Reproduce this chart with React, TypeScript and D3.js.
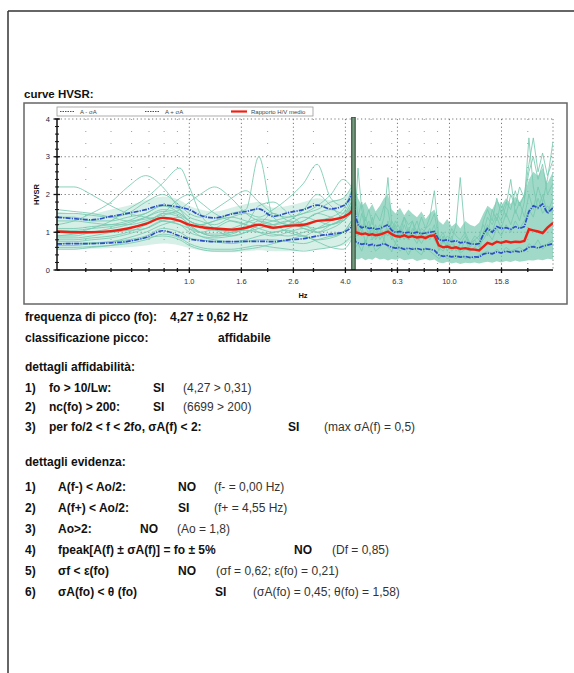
import React from 'react';
import * as d3 from 'd3';

// ---------------- DATA ----------------
const FREQ_LO = [0.31, 0.36, 0.42, 0.5, 0.58, 0.68, 0.79, 0.92, 1.0, 1.1, 1.25, 1.45, 1.65, 1.85, 2.1, 2.4, 2.75, 3.1, 3.5, 3.9, 4.2];
const FO = 4.27;
const FO_BAND = [4.21, 4.34];
const FREQ_HI = [4.35, 4.45, 4.6, 4.75, 4.9, 5.05, 5.2, 5.4, 5.6, 5.8, 6.0, 6.2, 6.45, 6.7, 6.95, 7.2, 7.5, 7.8, 8.1, 8.4, 8.75, 9.1, 9.45, 9.8, 10.2, 10.6, 11.0, 11.5, 12.0, 12.5, 13.0, 13.5, 14.0, 14.6, 15.2, 15.8, 16.5, 17.2, 17.9, 18.6, 19.4, 20.2, 21.0, 21.9, 22.8, 23.8, 25.0];

// individual windows, low frequency part (on FREQ_LO)
const LF_CURVES = [
  [2.2, 2.2, 2.0, 1.7, 1.5, 1.4, 1.3, 1.2, 1.1, 1.0, 1.1, 1.3, 1.2, 1.0, 0.9, 1.0, 1.1, 1.0, 1.2, 1.4, 1.8],
  [1.2, 1.3, 1.5, 1.8, 2.2, 2.5, 2.2, 1.6, 1.3, 1.2, 1.1, 1.0, 1.1, 1.3, 1.2, 1.0, 0.9, 1.1, 1.3, 1.5, 1.9],
  [1.0, 1.0, 1.1, 1.3, 1.6, 1.9, 2.3, 2.7, 2.2, 1.5, 1.1, 0.9, 1.0, 1.2, 1.5, 1.3, 1.1, 1.0, 1.1, 1.3, 1.6],
  [0.9, 0.9, 1.0, 1.1, 1.2, 1.4, 1.6, 1.5, 1.3, 1.2, 1.3, 1.5, 1.6, 3.0, 1.4, 1.2, 1.3, 1.5, 1.4, 1.3, 1.7],
  [1.4, 1.4, 1.3, 1.3, 1.4, 1.5, 1.7, 1.6, 1.4, 1.3, 1.2, 1.4, 1.5, 1.4, 1.6, 1.9, 2.3, 2.8, 1.9, 1.7, 2.1],
  [0.8, 0.8, 0.85, 0.9, 1.0, 1.2, 1.5, 1.4, 1.2, 1.0, 0.9, 0.95, 1.1, 1.2, 1.3, 1.4, 1.5, 1.7, 2.0, 2.4, 2.2],
  [0.6, 0.6, 0.62, 0.65, 0.7, 0.8, 0.95, 0.85, 0.7, 0.6, 0.55, 0.55, 0.6, 0.65, 0.6, 0.55, 0.5, 0.55, 0.6, 0.7, 0.9],
  [0.7, 0.7, 0.72, 0.75, 0.8, 0.9, 1.1, 1.0, 0.85, 0.8, 0.75, 0.7, 0.75, 0.8, 0.8, 0.75, 0.7, 0.8, 0.9, 1.0, 1.2],
  [1.1, 1.1, 1.15, 1.2, 1.3, 1.5, 1.7, 1.5, 1.3, 1.2, 1.3, 1.4, 1.3, 1.2, 1.1, 1.2, 1.4, 1.3, 1.2, 1.4, 1.7],
  [0.9, 0.95, 1.0, 1.0, 1.05, 1.1, 1.3, 1.4, 1.2, 1.0, 0.9, 1.0, 1.2, 1.7, 1.8, 1.5, 1.2, 1.1, 1.2, 1.3, 1.5],
  [1.3, 1.3, 1.25, 1.2, 1.2, 1.3, 1.5, 1.9, 2.0, 1.8, 1.5, 1.3, 1.2, 1.1, 1.0, 1.1, 1.3, 1.5, 1.6, 1.5, 1.8],
  [0.75, 0.75, 0.8, 0.85, 0.95, 1.1, 1.3, 1.2, 1.0, 0.9, 0.85, 0.9, 1.0, 1.1, 1.2, 1.3, 1.2, 1.0, 0.9, 1.0, 1.3],
  [1.5, 1.5, 1.45, 1.4, 1.5, 1.8, 2.0, 1.7, 1.5, 1.4, 1.6, 1.9, 2.1, 1.8, 1.5, 1.4, 1.5, 1.6, 1.8, 1.9, 2.2],
  [0.65, 0.65, 0.7, 0.75, 0.85, 1.0, 1.2, 1.3, 1.1, 0.9, 0.8, 0.75, 0.8, 0.9, 1.0, 1.05, 0.9, 0.8, 0.85, 1.0, 1.3],
  [1.05, 1.05, 1.1, 1.15, 1.25, 1.4, 1.55, 1.45, 1.3, 1.15, 1.05, 1.1, 1.25, 1.35, 1.3, 1.2, 1.15, 1.3, 1.4, 1.6, 2.0],
  [0.85, 0.85, 0.9, 1.0, 1.1, 1.25, 1.4, 1.3, 1.15, 1.0, 0.95, 1.0, 1.05, 1.0, 0.95, 0.9, 1.0, 1.1, 1.2, 1.35, 1.6],
  [1.6, 1.55, 1.5, 1.4, 1.3, 1.35, 1.45, 1.6, 1.8, 2.0, 2.2, 1.9, 1.5, 1.3, 1.2, 1.3, 1.6, 2.0, 1.7, 1.4, 1.7],
  [0.55, 0.55, 0.6, 0.65, 0.75, 0.85, 0.9, 0.8, 0.65, 0.55, 0.5, 0.5, 0.55, 0.6, 0.7, 0.8, 0.9, 0.75, 0.6, 0.55, 0.8],
];
const LF_ENV_LOW = [0.55, 0.55, 0.56, 0.58, 0.6, 0.65, 0.7, 0.65, 0.58, 0.52, 0.48, 0.47, 0.5, 0.52, 0.5, 0.5, 0.52, 0.55, 0.6, 0.65, 0.8];
const LF_ENV_HIGH = [1.55, 1.5, 1.5, 1.6, 1.7, 1.85, 1.95, 1.85, 1.7, 1.6, 1.55, 1.65, 1.75, 1.8, 1.65, 1.7, 1.8, 1.9, 1.85, 1.9, 2.2];

// high frequency part (on FREQ_HI)
const HF_ENV_LOW = [0.3, 0.28, 0.32, 0.26, 0.3, 0.27, 0.33, 0.28, 0.3, 0.25, 0.29, 0.27, 0.31, 0.26, 0.28, 0.3, 0.24, 0.27, 0.29, 0.25, 0.28, 0.2, 0.18, 0.22, 0.17, 0.2, 0.16, 0.19, 0.18, 0.2, 0.17, 0.2, 0.22, 0.19, 0.23, 0.2, 0.24, 0.21, 0.25, 0.22, 0.24, 0.26, 0.25, 0.28, 0.26, 0.3, 0.28];
const HF_ENV_HIGH = [2.2, 1.9, 1.7, 1.8, 1.6, 1.75, 1.55, 1.7, 1.9, 2.0, 1.6, 1.5, 1.65, 1.45, 1.6, 1.5, 1.4, 1.55, 1.35, 1.5, 1.6, 1.3, 1.2, 1.35, 1.15, 1.25, 1.1, 1.3, 1.2, 1.15, 1.25, 1.5, 1.7, 1.6, 1.85, 1.7, 1.9, 1.75, 1.95, 1.8, 2.0, 2.4, 2.6, 2.5, 2.7, 2.3, 2.6];
const HF_CURVES = [
  [1.5, 2.7, 1.6, 1.2, 0.9, 1.1, 0.8, 1.0, 1.4, 2.45, 1.2, 0.9, 1.0, 0.8, 1.1, 0.9, 0.7, 1.0, 0.8, 0.9, 1.2, 0.6, 0.5, 0.7, 0.5, 0.6, 0.45, 0.55, 0.5, 0.6, 0.5, 0.9, 1.2, 1.0, 1.4, 1.1, 1.5, 1.2, 1.6, 1.3, 1.8, 3.5, 2.2, 1.6, 2.0, 1.5, 1.9],
  [0.8, 1.3, 1.0, 1.4, 1.1, 0.9, 1.2, 0.8, 1.0, 0.9, 1.3, 1.1, 0.8, 1.2, 0.9, 1.0, 1.3, 0.9, 1.1, 1.4, 2.1, 0.9, 0.7, 0.9, 0.8, 1.2, 2.45, 0.9, 0.7, 0.8, 0.6, 1.0, 1.4, 1.2, 1.5, 1.3, 1.7, 2.4, 1.5, 1.8, 1.4, 2.0, 1.6, 2.2, 1.8, 2.4, 3.4],
  [1.2, 1.0, 1.5, 1.1, 1.3, 0.8, 1.0, 1.2, 0.9, 1.1, 0.8, 1.2, 0.9, 1.4, 1.0, 1.3, 0.8, 1.1, 1.0, 0.8, 1.0, 0.5, 0.8, 0.6, 0.9, 0.5, 0.7, 0.9, 0.6, 0.8, 0.9, 1.2, 0.9, 1.6, 1.3, 1.8, 1.4, 2.0, 1.7, 2.2, 1.9, 2.6, 3.0, 2.4, 2.8, 2.0, 2.3],
  [0.6, 0.7, 0.5, 0.8, 0.6, 0.7, 0.5, 0.6, 0.8, 0.6, 0.5, 0.7, 0.5, 0.6, 0.4, 0.6, 0.5, 0.4, 0.6, 0.5, 0.4, 0.3, 0.4, 0.3, 0.35, 0.3, 0.4, 0.3, 0.35, 0.3, 0.4, 0.45, 0.5, 0.4, 0.55, 0.45, 0.6, 0.5, 0.55, 0.6, 0.5, 0.7, 0.6, 0.8, 0.55, 0.7, 0.8],
  [2.0, 1.4, 1.8, 1.3, 1.6, 1.2, 1.5, 1.3, 1.7, 1.6, 1.0, 1.3, 1.1, 1.4, 1.2, 1.3, 1.0, 1.4, 1.1, 1.2, 1.5, 0.8, 1.0, 0.7, 1.1, 0.9, 0.8, 1.0, 0.7, 0.9, 0.8, 1.3, 1.6, 1.3, 1.9, 1.5, 1.8, 1.6, 2.1, 1.7, 2.0, 2.8, 3.5, 2.6, 3.1, 2.5, 2.9],
  [1.0, 0.9, 1.2, 0.7, 1.0, 1.4, 0.9, 1.1, 0.8, 1.3, 0.9, 0.7, 1.1, 0.9, 0.8, 1.1, 0.9, 0.7, 0.9, 1.1, 0.8, 0.6, 0.9, 0.5, 0.7, 0.6, 0.5, 0.8, 0.5, 0.6, 0.7, 0.8, 1.0, 0.8, 1.1, 0.9, 1.2, 1.0, 1.3, 1.1, 1.3, 1.6, 1.4, 1.9, 1.5, 1.7, 1.5],
];

// mean H/V and +- sigma: low part (FREQ_LO + FO), high part (FREQ_HI)
const MEAN_LO = [1.02, 1.0, 1.0, 1.03, 1.1, 1.22, 1.38, 1.3, 1.2, 1.14, 1.1, 1.07, 1.12, 1.2, 1.12, 1.17, 1.2, 1.3, 1.33, 1.4, 1.55, 1.85];
const UPPER_LO = [1.4, 1.36, 1.33, 1.42, 1.5, 1.6, 1.72, 1.66, 1.6, 1.45, 1.38, 1.48, 1.55, 1.62, 1.42, 1.52, 1.6, 1.72, 1.62, 1.7, 2.0, 2.5];
const LOWER_LO = [0.69, 0.7, 0.7, 0.72, 0.76, 0.86, 1.04, 0.9, 0.82, 0.78, 0.75, 0.75, 0.76, 0.76, 0.75, 0.8, 0.83, 0.9, 0.95, 1.0, 1.15, 1.3];
const MEAN_HI = [1.0, 0.98, 0.95, 0.97, 0.93, 0.95, 0.92, 0.94, 0.98, 1.02, 0.95, 0.9, 0.88, 0.92, 0.87, 0.9, 0.86, 0.88, 0.85, 0.9, 0.92, 0.65, 0.6, 0.62, 0.58, 0.6, 0.56, 0.58, 0.55, 0.54, 0.52, 0.62, 0.72, 0.68, 0.75, 0.72, 0.76, 0.73, 0.75, 0.74, 0.77, 1.08, 1.05, 1.02, 0.98, 1.12, 1.25];
const UPPER_HI = [1.45, 1.2, 1.12, 1.15, 1.1, 1.12, 1.08, 1.1, 1.15, 1.2, 1.05, 1.0, 1.02, 0.98, 1.0, 0.97, 1.0, 0.96, 0.98, 1.0, 1.02, 0.8, 0.78, 0.8, 0.75, 0.78, 0.72, 0.74, 0.7, 0.68, 0.7, 0.95, 1.1, 1.0, 1.15, 1.1, 1.12, 1.08, 1.15, 1.1, 1.15, 1.55, 1.7, 1.65, 1.75, 1.5, 1.65];
const LOWER_HI = [0.75, 0.72, 0.68, 0.7, 0.66, 0.68, 0.64, 0.66, 0.7, 0.65, 0.6, 0.58, 0.6, 0.55, 0.58, 0.55, 0.57, 0.54, 0.56, 0.55, 0.52, 0.4, 0.36, 0.38, 0.35, 0.37, 0.34, 0.36, 0.33, 0.35, 0.34, 0.42, 0.45, 0.43, 0.48, 0.45, 0.5, 0.47, 0.5, 0.48, 0.52, 0.6, 0.62, 0.58, 0.63, 0.66, 0.7];

const X_DOMAIN = [0.31, 25];
const Y_DOMAIN = [0, 4];
const X_TICKS = [1, 1.585, 2.512, 3.981, 6.31, 10, 15.85];
const X_TICK_LABELS = ['1.0', '1.6', '2.6', '4.0', '6.3', '10.0', '15.8'];
const X_MINOR = [0.4, 0.5, 0.6, 0.7, 0.8, 0.9, 2, 3, 5, 6, 7, 8, 9, 20];
const Y_TICKS = [0, 1, 2, 3, 4];

const LEGEND_LABELS = ['A - σA', 'A + σA', 'Rapporto H/V medio'];

const TITLE = 'curve HVSR:';
const PEAK_LINES = [
  ['frequenza di picco (fo):', '4,27 ± 0,62 Hz'],
  ['classificazione picco:', 'affidabile'],
];
const AFFID_TITLE = 'dettagli affidabilità:';
const AFFID_ROWS = [
  ['1)', 'fo > 10/Lw:', 'SI', '(4,27 > 0,31)'],
  ['2)', 'nc(fo) > 200:', 'SI', '(6699 > 200)'],
  ['3)', 'per fo/2 < f < 2fo, σA(f) < 2:', 'SI', '(max σA(f) = 0,5)'],
];
const EVID_TITLE = 'dettagli evidenza:';
const EVID_ROWS = [
  ['1)', 'A(f-) < Ao/2:', 'NO', '(f- = 0,00 Hz)'],
  ['2)', 'A(f+) < Ao/2:', 'SI', '(f+ = 4,55 Hz)'],
  ['3)', 'Ao>2:', 'NO', '(Ao = 1,8)'],
  ['4)', 'fpeak[A(f) ± σA(f)] = fo ± 5%', 'NO', '(Df = 0,85)'],
  ['5)', 'σf < ε(fo)', 'NO', '(σf = 0,62; ε(fo) = 0,21)'],
  ['6)', 'σA(fo) < θ (fo)', 'SI', '(σA(fo) = 0,45; θ(fo) = 1,58)'],
];

// ---------------- LAYOUT ----------------
const W = 574, H = 673;
const PL = 57, PR = 553, PT = 119, PB = 270;
const FONT = 'Liberation Sans, Arial, Helvetica, sans-serif';
const TXT = 12;
const AFFID_POS = [
  { y: 392, res: 153, note: 183 },
  { y: 411, res: 153, note: 183 },
  { y: 431, res: 288, note: 324 },
];
const EVID_POS = [
  { y: 491, res: 178, note: 214 },
  { y: 512, res: 178, note: 214 },
  { y: 533, res: 140, note: 177 },
  { y: 554, res: 294, note: 332 },
  { y: 575, res: 178, note: 216 },
  { y: 596, res: 215, note: 253 },
];

const TEAL = '#78c9b0';
const BLUE = '#2d4fc4';
const RED = '#ee2016';

export default function App() {
  const x = d3.scaleLog().domain(X_DOMAIN).range([PL, PR]);
  const y = d3.scaleLinear().domain(Y_DOMAIN).range([PB, PT]);

  const smooth = d3.line<[number, number]>().x((d) => x(d[0])).y((d) => y(d[1])).curve(d3.curveMonotoneX);
  const lin = d3.line<[number, number]>().x((d) => x(d[0])).y((d) => y(d[1]));
  const areaSmooth = d3.area<[number, number, number]>().x((d) => x(d[0])).y0((d) => y(d[1])).y1((d) => y(d[2])).curve(d3.curveMonotoneX);
  const areaLin = d3.area<[number, number, number]>().x((d) => x(d[0])).y0((d) => y(d[1])).y1((d) => y(d[2]));

  const FREQ_LO_FO = [...FREQ_LO, FO];
  const zipLo = (vals: number[]) => FREQ_LO_FO.map((f, i) => [f, vals[i]] as [number, number]);
  const zipHi = (vals: number[], first: number) => [[FO, first] as [number, number], ...FREQ_HI.map((f, i) => [f, vals[i]] as [number, number])];

  const yMinor = d3.range(0, 4.001, 0.2);

  return (
    <svg width={W} height={H} style={{ position: 'absolute', left: 0, top: 0, background: '#fff' }} fontFamily={FONT}>
      <defs>
        <clipPath id="plotclip">
          <rect x={PL} y={PT - 2} width={PR - PL} height={PB - PT + 2} />
        </clipPath>
      </defs>
      {/* page frame */}
      <line x1={8} y1={11} x2={W} y2={11} stroke="#333" strokeWidth={1.5} />
      <line x1={8} y1={11} x2={8} y2={H} stroke="#333" strokeWidth={1.5} />

      <text x={24} y={98} fontSize={11.5} fontWeight="bold" fill="#111">{TITLE}</text>

      {/* chart box */}
      <rect x={24} y={103} width={543} height={201} fill="#fff" stroke="#666" strokeWidth={1.5} />

      {/* grid */}
      {X_MINOR.map((f) => (
        <line key={'gm' + f} x1={x(f)} x2={x(f)} y1={PT} y2={PB} stroke="#9a9a9a" strokeWidth={1} strokeDasharray="1 11" />
      ))}
      {X_TICKS.map((f) => (
        <line key={'gx' + f} x1={x(f)} x2={x(f)} y1={PT} y2={PB} stroke="#777" strokeWidth={1} strokeDasharray="1.2 2.6" />
      ))}
      <line x1={PR} x2={PR} y1={PT} y2={PB} stroke="#777" strokeWidth={1} strokeDasharray="1.2 2.6" />
      {Y_TICKS.filter((v) => v > 0).map((v) => (
        <line key={'gy' + v} x1={PL} x2={PR} y1={y(v)} y2={y(v)} stroke="#777" strokeWidth={1} strokeDasharray="1.2 2.6" />
      ))}

      <g clipPath="url(#plotclip)">
        {/* individual windows */}
        <path d={areaSmooth(FREQ_LO.map((f, i) => [f, LF_ENV_LOW[i], LF_ENV_HIGH[i]] as [number, number, number])) || ''} fill={TEAL} opacity={0.3} />
        {LF_CURVES.map((c, k) => (
          <path key={'lf' + k} d={smooth(FREQ_LO.map((f, i) => [f, c[i]] as [number, number])) || ''} fill="none" stroke={TEAL} strokeWidth={1} opacity={0.85} />
        ))}
        <path d={areaLin(FREQ_HI.map((f, i) => [f, HF_ENV_LOW[i], HF_ENV_HIGH[i]] as [number, number, number])) || ''} fill={TEAL} opacity={0.7} />
        {HF_CURVES.map((c, k) => (
          <path key={'hf' + k} d={lin(FREQ_HI.map((f, i) => [f, c[i]] as [number, number])) || ''} fill="none" stroke={TEAL} strokeWidth={1} opacity={0.85} />
        ))}

        {/* +- sigma */}
        {[[UPPER_LO, UPPER_HI], [LOWER_LO, LOWER_HI]].map(([lo, hi], k) => (
          <g key={'sg' + k}>
            <path d={smooth(zipLo(lo)) || ''} fill="none" stroke={BLUE} strokeWidth={1.7} strokeDasharray="5 1.2 1.2 1.2" />
            <path d={lin(zipHi(hi, lo[lo.length - 1])) || ''} fill="none" stroke={BLUE} strokeWidth={1.7} strokeDasharray="5 1.2 1.2 1.2" />
          </g>
        ))}
        {/* mean */}
        <path d={smooth(zipLo(MEAN_LO)) || ''} fill="none" stroke={RED} strokeWidth={2.4} />
        <path d={lin(zipHi(MEAN_HI, MEAN_LO[MEAN_LO.length - 1])) || ''} fill="none" stroke={RED} strokeWidth={2.4} />

        {/* peak band */}
        <rect x={x(FO_BAND[0])} y={PT - 2} width={x(FO_BAND[1]) - x(FO_BAND[0])} height={PB - PT + 2} fill="#6f9f7c" stroke="#333" strokeWidth={1} />
      </g>

      {/* axes */}
      <line x1={PL} x2={PL} y1={PT} y2={PB} stroke="#111" strokeWidth={1.5} />
      <line x1={PL} x2={PR} y1={PB} y2={PB} stroke="#111" strokeWidth={1.5} />
      {yMinor.map((v) => (
        <line key={'ym' + v} x1={PL - 2} x2={PL + 2} y1={y(v)} y2={y(v)} stroke="#111" strokeWidth={1} />
      ))}
      {Y_TICKS.map((v) => (
        <g key={'yt' + v}>
          <line x1={PL - 3.5} x2={PL + 3} y1={y(v)} y2={y(v)} stroke="#111" strokeWidth={1.3} />
          <text x={50} y={y(v) + 2.5} fontSize={7.5} textAnchor="end" fill="#1b1b3a">{v}</text>
        </g>
      ))}
      {X_MINOR.map((f) => (
        <line key={'xm' + f} x1={x(f)} x2={x(f)} y1={PB - 2} y2={PB + 2} stroke="#111" strokeWidth={1.3} />
      ))}
      {X_TICKS.map((f, i) => (
        <g key={'xt' + f}>
          <line x1={x(f)} x2={x(f)} y1={PB - 2.5} y2={PB + 3} stroke="#111" strokeWidth={1.3} />
          <text x={x(f)} y={284} fontSize={7.5} textAnchor="middle" fill="#333">{X_TICK_LABELS[i]}</text>
        </g>
      ))}
      <text x={303} y={298} fontSize={7.5} fontWeight="bold" textAnchor="middle" fill="#111">Hz</text>
      <text transform={`translate(39,${(PT + PB) / 2}) rotate(-90)`} fontSize={7.5} fontWeight="bold" textAnchor="middle" fill="#111">HVSR</text>

      {/* legend */}
      <rect x={57} y={107} width={256} height={9} fill="#fff" stroke="#999" strokeWidth={0.8} />
      <line x1={60} x2={74} y1={111.5} y2={111.5} stroke={BLUE} strokeWidth={1} strokeDasharray="1.5 1" />
      <text x={80} y={114} fontSize={6} fill="#444">{LEGEND_LABELS[0]}</text>
      <line x1={145} x2={159} y1={111.5} y2={111.5} stroke={BLUE} strokeWidth={1} strokeDasharray="1.5 1" />
      <text x={165} y={114} fontSize={6} fill="#444">{LEGEND_LABELS[1]}</text>
      <line x1={231} x2={247} y1={111.5} y2={111.5} stroke={RED} strokeWidth={2.2} />
      <text x={251} y={114} fontSize={6} fill="#444">{LEGEND_LABELS[2]}</text>

      {/* text block */}
      <g fontSize={TXT} fill="#111">
        <text x={25} y={321} fontWeight="bold">{PEAK_LINES[0][0]}</text>
        <text x={170} y={321} fontWeight="bold">{PEAK_LINES[0][1]}</text>
        <text x={25} y={342} fontWeight="bold">{PEAK_LINES[1][0]}</text>
        <text x={218} y={342} fontWeight="bold">{PEAK_LINES[1][1]}</text>
        <text x={25} y={371} fontWeight="bold">{AFFID_TITLE}</text>
        {AFFID_ROWS.map((r, i) => (
          <g key={'a' + i}>
            <text x={25} y={AFFID_POS[i].y} fontWeight="bold">{r[0]}</text>
            <text x={49} y={AFFID_POS[i].y} fontWeight="bold">{r[1]}</text>
            <text x={AFFID_POS[i].res} y={AFFID_POS[i].y} fontWeight="bold">{r[2]}</text>
            <text x={AFFID_POS[i].note} y={AFFID_POS[i].y} fill="#333">{r[3]}</text>
          </g>
        ))}
        <text x={25} y={466} fontWeight="bold">{EVID_TITLE}</text>
        {EVID_ROWS.map((r, i) => (
          <g key={'e' + i}>
            <text x={25} y={EVID_POS[i].y} fontWeight="bold">{r[0]}</text>
            <text x={58} y={EVID_POS[i].y} fontWeight="bold">{r[1]}</text>
            <text x={EVID_POS[i].res} y={EVID_POS[i].y} fontWeight="bold">{r[2]}</text>
            <text x={EVID_POS[i].note} y={EVID_POS[i].y} fill="#333">{r[3]}</text>
          </g>
        ))}
      </g>
    </svg>
  );
}
